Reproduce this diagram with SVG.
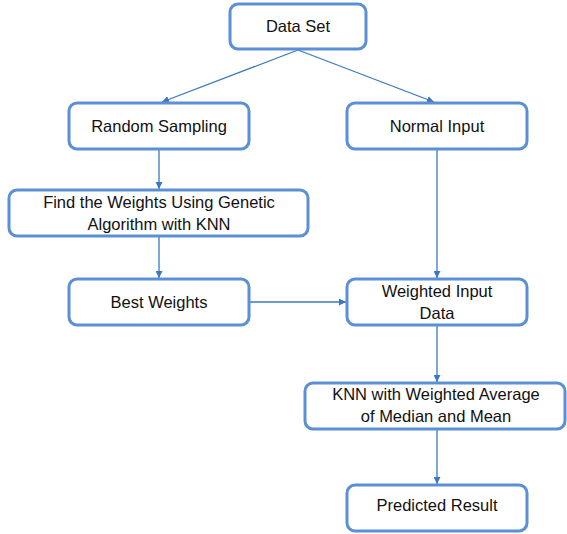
<svg xmlns="http://www.w3.org/2000/svg" width="567" height="534" viewBox="0 0 567 534">
<style>
.box{fill:#fff;stroke:#5b8fd6;stroke-width:3}
.t{font-family:"Liberation Sans",Arial,sans-serif;font-size:16.5px;fill:#111;text-anchor:middle}
.c{stroke:#3a78c0;stroke-width:1.3;fill:none;marker-end:url(#ah)}
</style>
<defs>
<marker id="ah" viewBox="0 0 10 10" refX="10" refY="5" markerWidth="7" markerHeight="7" markerUnits="userSpaceOnUse" orient="auto">
<path d="M0,0 L10,5 L0,10 z" fill="#3a78c0"/>
</marker>
</defs>
<rect width="567" height="534" fill="#fff"/>
<g id="connectors">
<line class="c" x1="298" y1="50" x2="162" y2="102"/>
<line class="c" x1="298" y1="50" x2="434" y2="102"/>
<line class="c" x1="159" y1="150" x2="159" y2="189"/>
<line class="c" x1="159" y1="236" x2="159" y2="278"/>
<line class="c" x1="437" y1="150" x2="437" y2="278"/>
<line class="c" x1="250" y1="302" x2="346" y2="302"/>
<line class="c" x1="437" y1="326" x2="437" y2="382"/>
<line class="c" x1="437" y1="430" x2="437" y2="484"/>
</g>
<g id="data-set"><rect class="box" x="230" y="4" width="136" height="45" rx="8"/><text class="t" x="298" y="32">Data Set</text></g>
<g id="random-sampling"><rect class="box" x="69" y="103" width="180" height="46" rx="8"/><text class="t" x="159" y="132">Random Sampling</text></g>
<g id="normal-input"><rect class="box" x="347" y="103" width="180" height="46" rx="8"/><text class="t" x="437" y="132">Normal Input</text></g>
<g id="find-weights"><rect class="box" x="9" y="190" width="299" height="46" rx="8"/><text class="t" x="159" y="208">Find the Weights Using Genetic</text><text class="t" x="159" y="230">Algorithm with KNN</text></g>
<g id="best-weights"><rect class="box" x="69" y="279" width="180" height="46" rx="8"/><text class="t" x="159" y="308">Best Weights</text></g>
<g id="weighted-input"><rect class="box" x="347" y="279" width="180" height="46" rx="8"/><text class="t" x="437" y="297">Weighted Input</text><text class="t" x="437" y="319">Data</text></g>
<g id="knn"><rect class="box" x="305" y="383" width="260" height="46" rx="8"/><text class="t" x="436" y="400">KNN with Weighted Average</text><text class="t" x="436" y="422">of Median and Mean</text></g>
<g id="predicted"><rect class="box" x="347" y="485" width="180" height="46" rx="8"/><text class="t" x="437" y="511">Predicted Result</text></g>
</svg>
